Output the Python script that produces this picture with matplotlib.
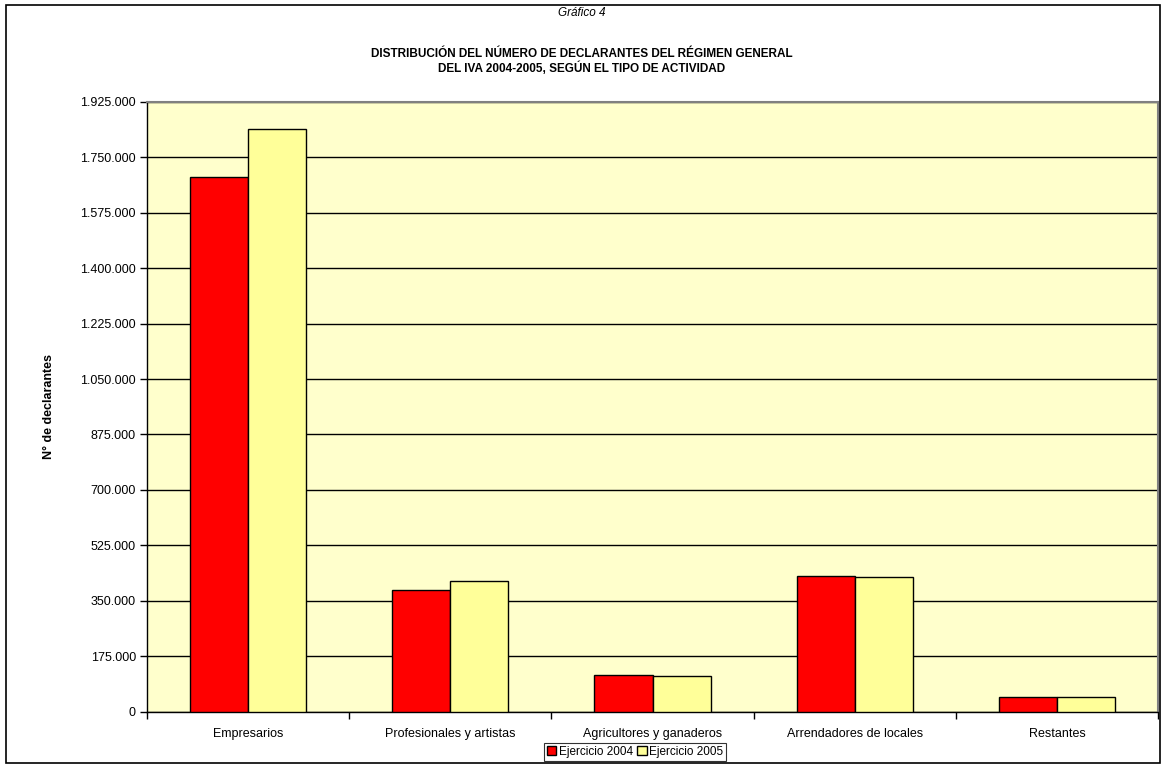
import numpy as np
import matplotlib
matplotlib.use('Agg')
import matplotlib.pyplot as plt
from matplotlib.patches import Rectangle
from matplotlib.ticker import FuncFormatter, FixedLocator

plt.rcParams.update({
    "font.family": ["Liberation Sans", "DejaVu Sans"],
    "font.size": 9,
})

# --- DATA ---
categories = ["Empresarios", "Profesionales y artistas", "Agricultores y ganaderos",
              "Arrendadores de locales", "Restantes"]
ejercicio_2004 = [1687000, 383700, 114300, 428000, 46700]
ejercicio_2005 = [1840600, 413100, 111200, 424800, 44800]
series_labels = ["Ejercicio 2004", "Ejercicio 2005"]
y_ticks = np.arange(0, 1925001, 175000)

fig = plt.figure(figsize=(11.64, 7.66), dpi=100)
ax = fig.add_axes([147 / 1164, 1 - 711.5 / 766, (1158 - 147) / 1164, (711.5 - 102) / 766])
ax.set_facecolor('#FFFFCC')

x = np.arange(len(categories))
w = 0.287
ax.bar(x - w / 2, ejercicio_2004, w, color='#FF0000', edgecolor='black', linewidth=1.0,
       label=series_labels[0], zorder=3)
ax.bar(x + w / 2, ejercicio_2005, w, color='#FFFF99', edgecolor='black', linewidth=1.0,
       label=series_labels[1], zorder=3)

ax.set_xlim(-0.5, len(categories) - 0.5)
ax.set_ylim(0, 1925000)
ax.set_yticks(y_ticks)
ax.yaxis.set_major_formatter(FuncFormatter(lambda v, p: f"{int(v):,}".replace(',', '.')))
ax.yaxis.grid(True, color='black', linewidth=1.0, zorder=1)
ax.set_axisbelow(True)

# category labels in the middle, tick marks between categories
ax.set_xticks(x)
ax.set_xticklabels(categories, fontsize=9)
ax.tick_params(axis='x', which='major', length=0, pad=12)
ax.xaxis.set_minor_locator(FixedLocator(np.arange(-0.5, len(categories), 1.0)))
ax.tick_params(axis='x', which='minor', length=5, width=1, direction='out')
ax.tick_params(axis='y', length=5, width=1, direction='out', labelsize=9, pad=3)

for s in ['top', 'right']:
    ax.spines[s].set_color('#808080')
    ax.spines[s].set_linewidth(1.5)
for s in ['left', 'bottom']:
    ax.spines[s].set_color('black')
    ax.spines[s].set_linewidth(1.0)

ax.set_ylabel('N° de declarantes', fontweight='bold', fontsize=9, labelpad=18)

# titles
fig.text(0.5, 1 - 13 / 766, 'Gráfico 4', ha='center', va='center', style='italic', fontsize=8.5)
fig.text(0.5, 1 - 54 / 766, 'DISTRIBUCIÓN DEL NÚMERO DE DECLARANTES DEL RÉGIMEN GENERAL',
         ha='center', va='center', fontweight='bold', fontsize=8.5)
fig.text(0.5, 1 - 68 / 766, 'DEL IVA 2004-2005, SEGÚN EL TIPO DE ACTIVIDAD',
         ha='center', va='center', fontweight='bold', fontsize=8.5)

leg = fig.legend(loc='center', bbox_to_anchor=(635 / 1164, 1 - 752 / 766), ncol=2,
                 frameon=True, fancybox=False, edgecolor='black', fontsize=8.5,
                 handlelength=0.8, handleheight=0.8, handletextpad=0.2, columnspacing=0.4,
                 borderpad=0.25, borderaxespad=0)
leg.get_frame().set_linewidth(0.8)

# outer chart border
fig.add_artist(Rectangle((6 / 1164, 1 - 763 / 766), (1160 - 6) / 1164, (763 - 5) / 766,
                         transform=fig.transFigure, fill=False, edgecolor='black', linewidth=1.2))

plt.savefig('out.png', dpi=100)
